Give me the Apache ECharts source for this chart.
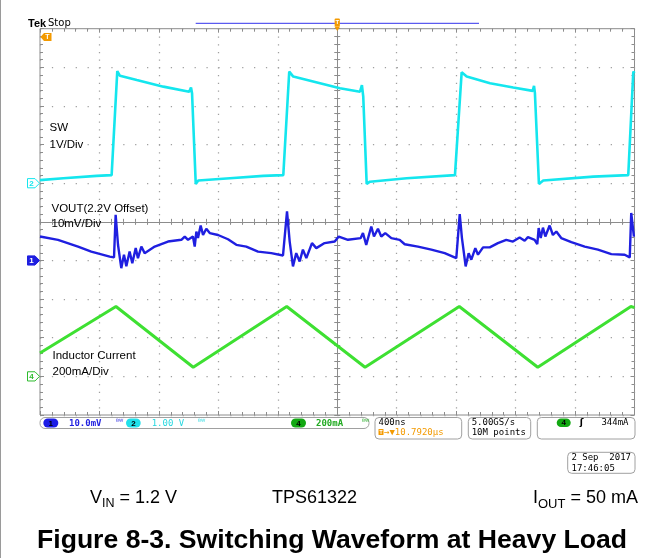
<!DOCTYPE html>
<html><head><meta charset="utf-8">
<script src="https://cdn.jsdelivr.net/npm/echarts/dist/echarts.min.js"></script>
<style>html,body{margin:0;padding:0;background:#fff}#c{width:664px;height:558px}</style>
</head><body><div id="c"></div>
<script>
// ---- data (time in ns, 400 ns/div) ----
const timeRangeNs = [0, 4000];
// SW node, volts (1 V/div, ground marker 4 div from top)
const swTrace = [
 [0,0.08],[157,0.13],[381,0.19],[482,0.21],[493,0.22],[520,2.90],[538,2.78],[651,2.67],[830,2.50],[1004,2.37],[1016,2.48],[1023,2.33],[1048,-0.02],[1065,0.07],[1278,0.13],[1502,0.19],[1637,0.21],[1648,0.22],[1677,2.89],[1704,2.76],[2018,2.46],[2153,2.37],[2166,2.54],[2175,2.24],[2198,-0.02],[2220,0.04],[2467,0.13],[2792,0.21],[2803,0.22],[2837,2.87],[2871,2.76],[3028,2.59],[3184,2.48],[3315,2.39],[3324,2.52],[3330,2.33],[3357,-0.02],[3386,0.07],[3723,0.17],[3958,0.21],[3970,0.22],[3992,2.89],[4000,2.85]
];
// VOUT ripple, mV relative to 2.2 V offset (10 mV/div)
const voutTrace = [
 [0,6.2],[121,5.35],[256,3.6],[345,2.3],[469,1.0],[498,0.8],[509,11.8],[525,4.0],[547,-2.0],[565,1.5],[581,-1.5],[603,2.3],[621,-0.7],[644,3.2],[659,0.6],[682,3.6],[704,1.9],[772,3.6],[861,4.9],[951,5.35],[974,6.2],[996,5.35],[1007,5.8],[1029,6.2],[1041,3.6],[1052,7.5],[1063,5.8],[1081,9.05],[1097,6.6],[1119,8.2],[1142,7.1],[1198,6.6],[1265,5.5],[1321,4.05],[1388,3.6],[1467,2.3],[1556,1.9],[1635,1.3],[1646,1.0],[1662,12.7],[1680,4.9],[1702,-1.55],[1724,1.9],[1747,-0.26],[1769,2.8],[1792,0.6],[1830,4.5],[1859,3.2],[1915,4.5],[1983,4.9],[2010,6.2],[2016,5.95],[2072,5.35],[2158,5.8],[2173,7.1],[2195,4.05],[2229,8.8],[2247,6.2],[2274,8.2],[2296,6.2],[2323,7.1],[2364,5.8],[2420,5.35],[2454,4.2],[2543,3.6],[2633,2.8],[2723,1.9],[2801,0.6],[2824,12.0],[2839,5.8],[2864,-1.55],[2884,1.9],[2902,0.2],[2929,3.2],[2947,1.5],[2981,3.4],[3026,3.4],[3081,4.5],[3137,5.35],[3182,4.9],[3227,5.95],[3261,5.1],[3283,6.05],[3328,5.35],[3346,4.2],[3355,8.4],[3369,5.8],[3384,8.5],[3400,6.2],[3429,9.05],[3451,6.6],[3474,7.5],[3507,5.8],[3575,4.75],[3665,3.6],[3754,2.8],[3844,1.65],[3934,1.5],[3968,0.8],[3978,12.3],[3996,6.2]
];
// Inductor current, mA (200 mA/div)
const ilTrace = [[0,121],[511,362],[1031,47],[1660,362],[2187,47],[2821,362],[3349,47],[3976,362],[4000,356]];

// screen ranges per channel (10 div each): [min, max]
const swRange = [-6, 4];
const voutRange = [-40, 60];
const ilRange = [-200, 1800];

const channelLabels = [['SW','1V/Div'],['VOUT(2.2V Offset)','10mV/Div'],['Inductor Current','200mA/Div']];
const statusTexts = {ch1:'10.0mV', ch2:'1.00 V', ch4:'200mA', hscale:'400ns', hpos:'→▼10.7920µs', rate:'5.00GS/s', rec:'10M points', trig:'344mA', date:'2 Sep  2017', time:'17:46:05'};
const footer = {vin:['V','IN',' = 1.2 V'], part:'TPS61322', iout:['I','OUT',' = 50 mA'], caption:'Figure 8-3. Switching Waveform at Heavy Load'};

const C_SW = '#14e6ee', C_VO = '#1f1fe0', C_IL = '#3ee032', ORANGE = '#f39a00', GRID = '#8c8c8c', DOT = '#a0a0a0';

const chart = echarts.init(document.getElementById('c'), null, {renderer:'canvas'});

function divAxis(extra) {
  return Object.assign({
    type:'value', min:-5, max:5, interval:1, gridIndex:0,
    axisLabel:{show:false}, splitLine:{show:false},
    axisLine:{show:false},
    axisTick:{show:true, length:3, lineStyle:{color:GRID}},
    minorTick:{show:true, splitNumber:5, length:3, lineStyle:{color:GRID}},
    minorSplitLine:{show:false}
  }, extra);
}
const hidden = (min,max)=>({type:'value', min, max, show:false, gridIndex:0, axisLine:{onZero:false}});

chart.setOption({
  animation:false,
  grid:{left:40, top:28.7, width:594.5, height:386.3, show:true, borderColor:GRID, borderWidth:1, backgroundColor:'transparent'},
  xAxis:[
    divAxis({position:'bottom', axisLine:{show:true, onZero:true, onZeroAxisIndex:0, lineStyle:{color:GRID}}, axisTick:{show:true,inside:true,length:3,lineStyle:{color:GRID}}, minorTick:{show:true,splitNumber:5,length:3,lineStyle:{color:GRID}},
      splitLine:{show:true, lineStyle:{color:DOT, width:1.25, type:[1.25,6.476]}}}),
    divAxis({position:'bottom', axisLine:{show:false, onZero:true, onZeroAxisIndex:0}, axisTick:{show:true,inside:false,length:3,lineStyle:{color:GRID}}, minorTick:{show:true,splitNumber:5,length:3,lineStyle:{color:GRID}}}),
    divAxis({position:'top', axisLine:{show:false, onZero:false}, axisTick:{show:true,inside:true,length:4,lineStyle:{color:GRID}}, minorTick:{show:true,splitNumber:5,length:3,lineStyle:{color:GRID}}}),
    divAxis({position:'bottom', axisLine:{show:false, onZero:false}, axisTick:{show:true,inside:true,length:4,lineStyle:{color:GRID}}, minorTick:{show:true,splitNumber:5,length:3,lineStyle:{color:GRID}}}),
    hidden(timeRangeNs[0], timeRangeNs[1])
  ],
  yAxis:[
    divAxis({position:'left', axisLine:{show:true, onZero:true, onZeroAxisIndex:0, lineStyle:{color:GRID}}, axisTick:{show:true,inside:true,length:3,lineStyle:{color:GRID}}, minorTick:{show:true,splitNumber:5,length:3,lineStyle:{color:GRID}},
      splitLine:{show:true, lineStyle:{color:DOT, width:1.25, type:[1.25,10.64]}}}),
    divAxis({position:'left', axisLine:{show:false, onZero:true, onZeroAxisIndex:0}, axisTick:{show:true,inside:false,length:3,lineStyle:{color:GRID}}, minorTick:{show:true,splitNumber:5,length:3,lineStyle:{color:GRID}}}),
    divAxis({position:'left', axisLine:{show:false, onZero:false}, axisTick:{show:true,inside:true,length:4,lineStyle:{color:GRID}}, minorTick:{show:true,splitNumber:5,length:3,lineStyle:{color:GRID}}}),
    divAxis({position:'right', axisLine:{show:false, onZero:false}, axisTick:{show:true,inside:true,length:4,lineStyle:{color:GRID}}, minorTick:{show:true,splitNumber:5,length:3,lineStyle:{color:GRID}}}),
    hidden(swRange[0], swRange[1]),
    hidden(voutRange[0], voutRange[1]),
    hidden(ilRange[0], ilRange[1])
  ],
  series:[
    {name:'SW', type:'line', xAxisIndex:4, yAxisIndex:4, data:swTrace, showSymbol:false, lineStyle:{color:C_SW, width:2.6}, z:5},
    {name:'VOUT', type:'line', xAxisIndex:4, yAxisIndex:5, data:voutTrace, showSymbol:false, lineStyle:{color:C_VO, width:2.4}, z:5},
    {name:'IL', type:'line', xAxisIndex:4, yAxisIndex:6, data:ilTrace, showSymbol:false, lineStyle:{color:C_IL, width:3}, z:5}
  ]
});

// ---- annotations ----
const y2 = chart.convertToPixel({yAxisIndex:4}, 0);
const y1 = chart.convertToPixel({yAxisIndex:5}, 0);
const y4 = chart.convertToPixel({yAxisIndex:6}, 0);
const xC = chart.convertToPixel({xAxisIndex:0}, 0);

const SANS = '"Liberation Sans", Arial, sans-serif';
const MONO = '"DejaVu Sans Mono", monospace';
const g = [];
function txt(x,y,text,font,fill,align,vAlign,z){ g.push({type:'text', x, y, z: z||20, style:{text, font, fill: fill||'#000', textAlign: align||'left', textVerticalAlign: vAlign||'middle'}}); }
function rect(x,y,w,h,r,fill,stroke,z){ g.push({type:'rect', z: z||15, shape:{x,y,width:w,height:h,r:r||0}, style:{fill:fill||'#fff', stroke:stroke||null, lineWidth:1}}); }
function poly(points,fill,stroke,z){ g.push({type:'polygon', z: z||18, shape:{points}, style:{fill, stroke:stroke||null, lineWidth:1}}); }
function line(x1,y1_,x2,y2_,stroke,w,z){ g.push({type:'line', z: z||18, shape:{x1,y1:y1_,x2,y2:y2_}, style:{stroke, lineWidth:w||1}}); }

// left frame line of the figure
line(0.5,0,0.5,558,'#9a9a9a',1);

// Tek Stop
txt(28,23.5,'Tek','bold 11px '+SANS,'#000');
txt(48,23.5,'Stop','10px "DejaVu Sans", sans-serif','#000');
// record bar
line(195.7,23.3,479,23.3,'#5b5bf0',1.2);
// trigger position marker (top centre)
rect(xC-2.6,18.5,5.2,8,1,ORANGE,null,19);
poly([[xC-2.8,26.5],[xC+2.8,26.5],[xC,31]],ORANGE,null,19);
txt(xC,22.7,'T','bold 6px '+SANS,'#fff','center','middle',21);
// trigger level marker (left)
poly([[40.5,37],[44,33],[51.5,33],[51.5,41],[44,41]],ORANGE,null,19);
txt(47.5,37.2,'T','bold 7px '+SANS,'#fff','center','middle',21);

// channel markers
function chMarker(y,label,color,filled){
  poly([[27.5,y-4.6],[35,y-4.6],[39.5,y],[35,y+4.6],[27.5,y+4.6]], filled?color:'#fff', color, 19);
  txt(31.5,y+0.3,label,'bold 8px '+SANS, filled?'#fff':color,'center','middle',21);
}
chMarker(y2,'2',C_SW,false);
chMarker(y1,'1',C_VO,true);
chMarker(y4,'4','#2dbb2d',false);

// channel labels
const LF = '11.5px '+SANS;
txt(49.5,127.5,channelLabels[0][0],LF); txt(49.5,145,channelLabels[0][1],LF);
txt(51.5,208.5,channelLabels[1][0],LF); txt(51.5,223.5,channelLabels[1][1],LF);
txt(52.5,356,channelLabels[2][0],LF); txt(52.5,372,channelLabels[2][1],LF);

// status bar
const SF = '9px '+MONO, SFB = 'bold 9px '+MONO;
rect(40,417.5,329,11,5,'#fff','#a0a0a0',14);
function capsule(x,y,w,h,color,label){ rect(x,y,w,h,h/2,color,null,16); txt(x+w/2,y+h/2+0.3,label,'bold 8px '+SANS,'#000','center','middle',21); }
capsule(43.3,418.5,15,9,'#1c1ce6','1');
txt(69,423.2,statusTexts.ch1,SFB,C_VO);
txt(116,422.5,'ᴮᵂ','7px "DejaVu Sans", sans-serif',C_VO);
capsule(126,418.5,14.7,9,'#20e0ea','2');
txt(151.7,423.2,statusTexts.ch2,SF,'#27d8e0');
txt(198,422.5,'ᴮᵂ','7px "DejaVu Sans", sans-serif','#27d8e0');
capsule(291,418.5,15,9,'#12a812','4');
txt(316,423.2,statusTexts.ch4,SFB,'#22aa22');
txt(362,422.5,'ᴮᵂ','7px "DejaVu Sans", sans-serif','#22aa22');

rect(375,417.5,86.7,21.5,4,'#fff','#a0a0a0',14);
txt(378.5,423,statusTexts.hscale,SF,'#000');
rect(378.5,429,5,6,0.5,ORANGE,null,16);
txt(381,432.2,'T','bold 5px '+SANS,'#fff','center','middle',21);
txt(384,432.6,statusTexts.hpos,SF,ORANGE);

rect(468.3,417.5,62.4,21.5,4,'#fff','#a0a0a0',14);
txt(471.7,423,statusTexts.rate,SF,'#000');
txt(471.7,433,statusTexts.rec,SF,'#000');

rect(537.3,417.5,97.7,21.5,4,'#fff','#a0a0a0',14);
capsule(556.7,418.5,14,8.5,'#12a812','4');
txt(581.5,423,'ʃ','bold 9px "DejaVu Sans", sans-serif','#000','center');
txt(628.5,423,statusTexts.trig,SF,'#000','right');

rect(567.7,452.3,67.3,21,4,'#fff','#a0a0a0',14);
txt(631,457.8,statusTexts.date,SF,'#000','right');
txt(571.5,468.3,statusTexts.time,SF,'#000');

// footer
const FS = 18;
function subText(x,y,parts,sub){
  g.push({type:'text', x, y, z:20, style:{
    text:'{m|'+parts[0]+'}{s|'+parts[1]+'}{m|'+parts[2]+'}',
    textVerticalAlign:'middle',
    rich:{
      m:{fontSize:FS, fontFamily:SANS, fill:'#000', lineHeight:25, verticalAlign:'middle'},
      s:{fontSize:sub, fontFamily:SANS, fill:'#000', lineHeight:25, verticalAlign:'bottom'}
    }}});
}
subText(90,498,footer.vin,12.5);
txt(272,498,footer.part, FS+'px '+SANS,'#000');
subText(533,498,footer.iout,13);
txt(37,541,footer.caption,'bold 26.6px '+SANS,'#000');

chart.setOption({graphic:g});
</script></body></html>
